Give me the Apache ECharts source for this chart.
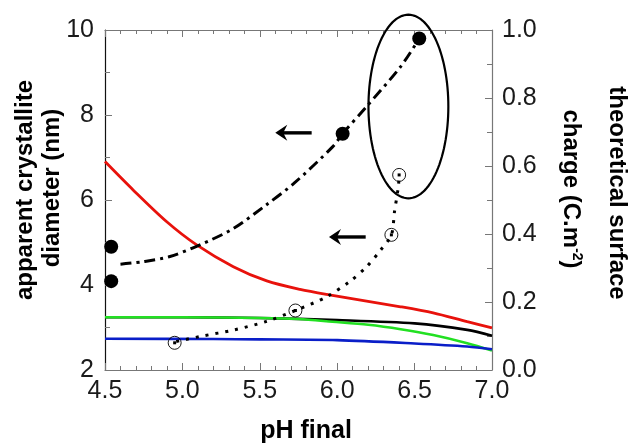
<!DOCTYPE html>
<html><head><meta charset="utf-8">
<script src="https://cdn.jsdelivr.net/npm/echarts@6/dist/echarts.min.js"></script>
<style>html,body{margin:0;padding:0;background:#fff}#c{width:632px;height:443px}</style>
</head><body><div id="c"></div>
<script>
// ---- data (left axis: diameter nm; right axis: surface charge C.m-2) ----
var xTicks = [4.5, 5.0, 5.5, 6.0, 6.5, 7.0];
var filledX = [4.54, 4.54, 6.035, 6.53];
var filledY = [4.9, 4.09, 7.56, 9.8];
var openX = [4.95, 5.73, 6.35, 6.40];
var openY = [2.64, 3.40, 5.18, 6.59];
var dashX = [4.6, 4.75, 4.92, 5.11, 5.33, 5.54, 5.72, 5.97, 6.035, 6.19, 6.41, 6.53];
var dashY = [4.49, 4.55, 4.67, 4.94, 5.33, 5.88, 6.39, 7.25, 7.56, 8.2, 9.14, 9.8];
var dotX = [4.96, 5.13, 5.33, 5.54, 5.73, 5.93, 6.08, 6.19, 6.28, 6.35, 6.37, 6.395, 6.40];
var dotY = [2.67, 2.8, 2.94, 3.14, 3.4, 3.72, 4.08, 4.43, 4.82, 5.18, 5.72, 6.31, 6.59];
var redX = [4.5, 4.683, 4.899, 5.092, 5.329, 5.545, 5.76, 5.95, 6.41, 6.62, 6.84, 7.0];
var redY = [0.613, 0.529, 0.436, 0.368, 0.304, 0.262, 0.237, 0.221, 0.186, 0.168, 0.142, 0.124];
var greenX = [4.5, 5.0, 5.5, 5.75, 5.97, 6.2, 6.41, 6.62, 6.84, 7.0];
var greenY = [0.155, 0.155, 0.153, 0.150, 0.142, 0.133, 0.120, 0.103, 0.079, 0.057];
var blackX = [4.5, 5.0, 5.5, 6.0, 6.5, 6.84, 7.0];
var blackY = [0.155, 0.155, 0.153, 0.147, 0.137, 0.118, 0.101];
var blueX = [4.5, 5.2, 5.5, 6.0, 6.5, 6.84, 7.0];
var blueY = [0.092, 0.091, 0.090, 0.088, 0.078, 0.069, 0.061];
// annotations (data coords, left axis)
var ellipse = [6.46, 8.2, 0.258, 2.16]; // cx, cy, rx, ry
var arrows = [[5.835, 5.60, 7.58], [6.184, 5.947, 5.13]]; // xTail, xHead, y

function zip(xs, ys) { return xs.map(function (x, i) { return [x, ys[i]]; }); }

var chart = echarts.init(document.getElementById('c'));
var tickFont = { fontFamily: 'Liberation Sans, Arial', fontSize: 25, color: '#1a1a1a' };
var axisLineGray = { show: true, lineStyle: { color: '#777', width: 1.2 } };

chart.setOption({
  animation: false,
  backgroundColor: '#fff',
  grid: { left: 105, right: 140, top: 30, bottom: 73 },
  xAxis: [{
    type: 'value', min: 4.5, max: 7.0, interval: 0.5, position: 'bottom',
    axisLine: axisLineGray,
    axisTick: { inside: true, length: 7, lineStyle: { color: '#777' } },
    minorTick: { show: true, splitNumber: 5, length: 4, lineStyle: { color: '#777' } },
    splitLine: { show: false },
    axisLabel: Object.assign({ margin: 9, formatter: function (v) { return v.toFixed(1); } }, tickFont)
  }, {
    type: 'value', min: 4.5, max: 7.0, interval: 0.5, position: 'top',
    axisLine: axisLineGray,
    axisTick: { inside: true, length: 7, lineStyle: { color: '#777' } },
    minorTick: { show: true, splitNumber: 5, length: 4, lineStyle: { color: '#777' } },
    splitLine: { show: false }, axisLabel: { show: false }
  }],
  yAxis: [{
    type: 'value', min: 2, max: 10, interval: 2, position: 'left',
    axisLine: { show: true, lineStyle: { color: '#111', width: 1.2 } },
    axisTick: { inside: true, length: 7, lineStyle: { color: '#777' } },
    minorTick: { show: true, splitNumber: 2, length: 5, lineStyle: { color: '#777' } },
    splitLine: { show: false },
    axisLabel: Object.assign({ margin: 11 }, tickFont)
  }, {
    type: 'value', min: 0, max: 1.0, interval: 0.2, position: 'right',
    axisLine: axisLineGray,
    axisTick: { inside: true, length: 7, lineStyle: { color: '#777' } },
    minorTick: { show: true, splitNumber: 2, length: 5, lineStyle: { color: '#777' } },
    splitLine: { show: false },
    axisLabel: Object.assign({ margin: 10, formatter: function (v) { return v.toFixed(1); } }, tickFont)
  }],
  graphic: [
    { type: 'text', x: 25, y: 190, rotation: Math.PI / 2,
      style: { text: 'apparent crystallite', font: 'bold 24px "Liberation Sans", Arial', fill: '#000', align: 'center', verticalAlign: 'middle' } },
    { type: 'text', x: 52, y: 188, rotation: Math.PI / 2,
      style: { text: 'diameter (nm)', font: 'bold 24px "Liberation Sans", Arial', fill: '#000', align: 'center', verticalAlign: 'middle' } },
    { type: 'text', x: 617, y: 193, rotation: -Math.PI / 2,
      style: { text: 'theoretical surface', font: 'bold 24px "Liberation Sans", Arial', fill: '#000', align: 'center', verticalAlign: 'middle' } },
    { type: 'text', x: 571, y: 189, rotation: -Math.PI / 2,
      style: { text: '{a|charge (C.m}{s|-2}{a|)}', align: 'center', verticalAlign: 'middle',
        rich: { a: { font: 'bold 24px "Liberation Sans", Arial', fill: '#000', color: '#000' },
                s: { font: 'bold 14px "Liberation Sans", Arial', fill: '#000', color: '#000', verticalAlign: 'top', padding: [0, 0, 12, 0] } } } },
    { type: 'text', x: 306, y: 431,
      style: { text: 'pH final', font: 'bold 25px "Liberation Sans", Arial', fill: '#000', align: 'center', verticalAlign: 'middle' } }
  ],
  series: [
    { type: 'line', yAxisIndex: 1, data: zip(blackX, blackY), smooth: 0.3, showSymbol: false, lineStyle: { color: '#000', width: 2.6 }, z: 2 },
    { type: 'line', yAxisIndex: 1, data: zip(greenX, greenY), smooth: 0.3, showSymbol: false, lineStyle: { color: '#22e022', width: 2.6 }, z: 3 },
    { type: 'line', yAxisIndex: 1, data: zip(blueX, blueY), smooth: 0.3, showSymbol: false, lineStyle: { color: '#0a1ec8', width: 2.6 }, z: 3 },
    { type: 'line', yAxisIndex: 1, data: zip(redX, redY), smooth: 0.3, showSymbol: false, lineStyle: { color: '#e8120c', width: 2.8 }, z: 3 },
    { type: 'line', yAxisIndex: 0, data: zip(dashX, dashY), smooth: 0.3, showSymbol: false,
      lineStyle: { color: '#000', width: 3, type: [11, 5, 3, 5] }, z: 4 },
    { type: 'line', yAxisIndex: 0, data: zip(dotX, dotY), smooth: 0.3, showSymbol: false,
      lineStyle: { color: '#000', width: 3, type: [3, 7] }, z: 4 },
    { type: 'scatter', yAxisIndex: 0, data: zip(filledX, filledY), symbol: 'circle', symbolSize: 14,
      itemStyle: { color: '#000', opacity: 1 }, z: 5 },
    { type: 'scatter', yAxisIndex: 0, data: zip(openX, openY), symbol: 'circle', symbolSize: 13,
      itemStyle: { color: 'rgba(0,0,0,0)', borderColor: '#000', borderWidth: 0.9, opacity: 1 }, z: 5 },
    { type: 'scatter', yAxisIndex: 0, data: zip(openX, openY), symbol: 'rect', symbolSize: 3,
      itemStyle: { color: '#000', opacity: 1 }, z: 5 },
    { type: 'custom', yAxisIndex: 0, data: [ellipse], z: 6, clip: false,
      renderItem: function (params, api) {
        var c = api.coord([api.value(0), api.value(1)]);
        var ex = api.coord([api.value(0) + api.value(2), api.value(1)]);
        var ey = api.coord([api.value(0), api.value(1) + api.value(3)]);
        var rx = Math.abs(ex[0] - c[0]), ry = Math.abs(c[1] - ey[1]);
        var pts = [];
        for (var i = 0; i < 120; i++) {
          var t = i / 120 * Math.PI * 2;
          pts.push([c[0] + rx * Math.cos(t), c[1] + ry * Math.sin(t)]);
        }
        return { type: 'polygon', shape: { points: pts }, style: { fill: null, stroke: '#000', lineWidth: 2.2 } };
      } },
    { type: 'custom', yAxisIndex: 0, data: arrows, z: 6,
      renderItem: function (params, api) {
        var tail = api.coord([api.value(0), api.value(2)]);
        var head = api.coord([api.value(1), api.value(2)]);
        var y = head[1];
        return { type: 'group', children: [
          { type: 'line', shape: { x1: tail[0], y1: y, x2: head[0] + 6, y2: y }, style: { stroke: '#000', lineWidth: 3.4 } },
          { type: 'polygon', shape: { points: [[head[0], y], [head[0] + 12, y - 8], [head[0] + 8, y], [head[0] + 12, y + 8]] },
            style: { fill: '#000' } }
        ] };
      } }
  ]
});
</script></body></html>
